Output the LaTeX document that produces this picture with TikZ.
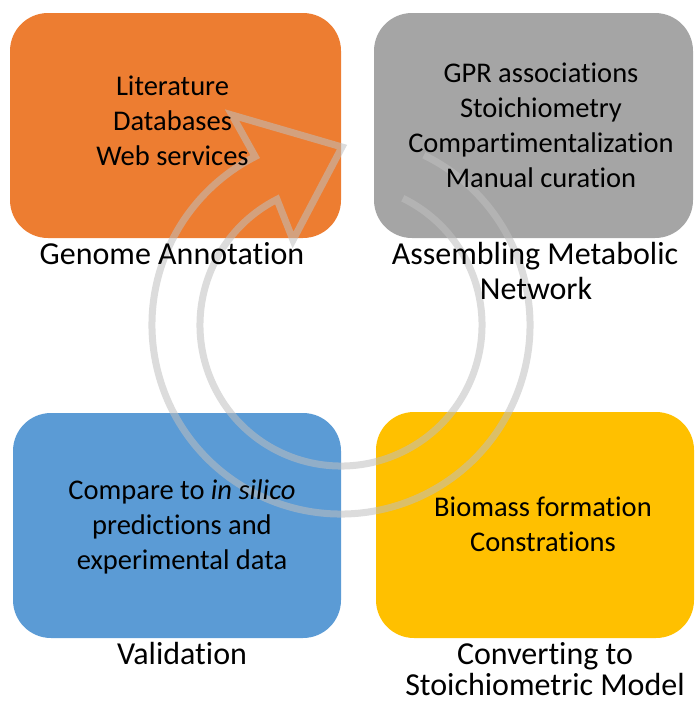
\documentclass[tikz,border=0pt]{standalone}
\usepackage{fontspec}
\setmainfont[Ligatures={NoCommon}]{Carlito}
\usetikzlibrary{calc}
\definecolor{cOrange}{HTML}{ED7D31}
\definecolor{cGray}{HTML}{A5A5A5}
\definecolor{cBlue}{HTML}{5B9BD5}
\definecolor{cYellow}{HTML}{FFC000}
\definecolor{cRing}{HTML}{BFBFBF}
\begin{document}
\begin{tikzpicture}[x=1pt,y=-1pt,
  stage/.style={rectangle, draw=none, rounded corners=38pt, inner sep=0pt},
  bt/.style={font=\fontsize{28.5}{34}\selectfont, inner sep=0pt, anchor=base, text=black},
  lb/.style={font=\fontsize{32}{36}\selectfont, inner sep=0pt, anchor=base, text=black},
  ring/.style={draw=cRing, draw opacity=0.55, line width=7pt, line join=miter, fill=none}]
\useasboundingbox (0,0) rectangle (694,702);
% boxes
\node[stage, fill=cOrange, minimum width=331pt, minimum height=225pt] (ga) at (175.5,125.5) {};
\node[stage, fill=cGray, minimum width=319pt, minimum height=225pt] (am) at (533.5,125.5) {};
\node[stage, fill=cBlue, minimum width=328pt, minimum height=225pt] (va) at (177,525.5) {};
\node[stage, fill=cYellow, minimum width=318pt, minimum height=226pt] (cs) at (535,525) {};
% circular arrow
\coordinate (c) at (341,325);
\coordinate (ob) at (232,115);
\coordinate (tip) at (342,147);
\coordinate (ib) at (293,240);
\draw[ring] ($(c)+(-64:189)$) arc[start angle=-64,end angle=243,radius=189]
  -- (ob) -- (tip) -- (ib) -- ($(c)+(243:141)$)
  arc[start angle=243,end angle=-64,radius=141];
% texts in boxes
\node[bt] (ga1) at (172.5,95) {Literature};
\node[bt] (ga2) at (172.5,130) {Databases};
\node[bt] (ga3) at (172.5,165) {Web services};
\node[bt] (am1) at (541,82) {GPR associations};
\node[bt] (am2) at (541,117) {Stoichiometry};
\node[bt] (am3) at (541,152) {Compartimentalization};
\node[bt] (am4) at (541,187) {Manual curation};
\node[bt] (va1) at (182,499) {Compare to \textit{in silico}};
\node[bt] (va2) at (182,534) {predictions and};
\node[bt] (va3) at (182,569) {experimental data};
\node[bt] (cs1) at (543,516) {Biomass formation};
\node[bt] (cs2) at (543,551) {Constrations};
% labels
\node[lb] (gal) at (172,264) {Genome Annotation};
\node[lb] (aml1) at (535,264) {Assembling Metabolic};
\node[lb] (aml2) at (536,299) {Network};
\node[lb] (val) at (182,664) {Validation};
\node[lb] (csl1) at (545,664) {Converting to};
\node[lb] (csl2) at (545,695) {Stoichiometric Model};
\end{tikzpicture}
\end{document}
